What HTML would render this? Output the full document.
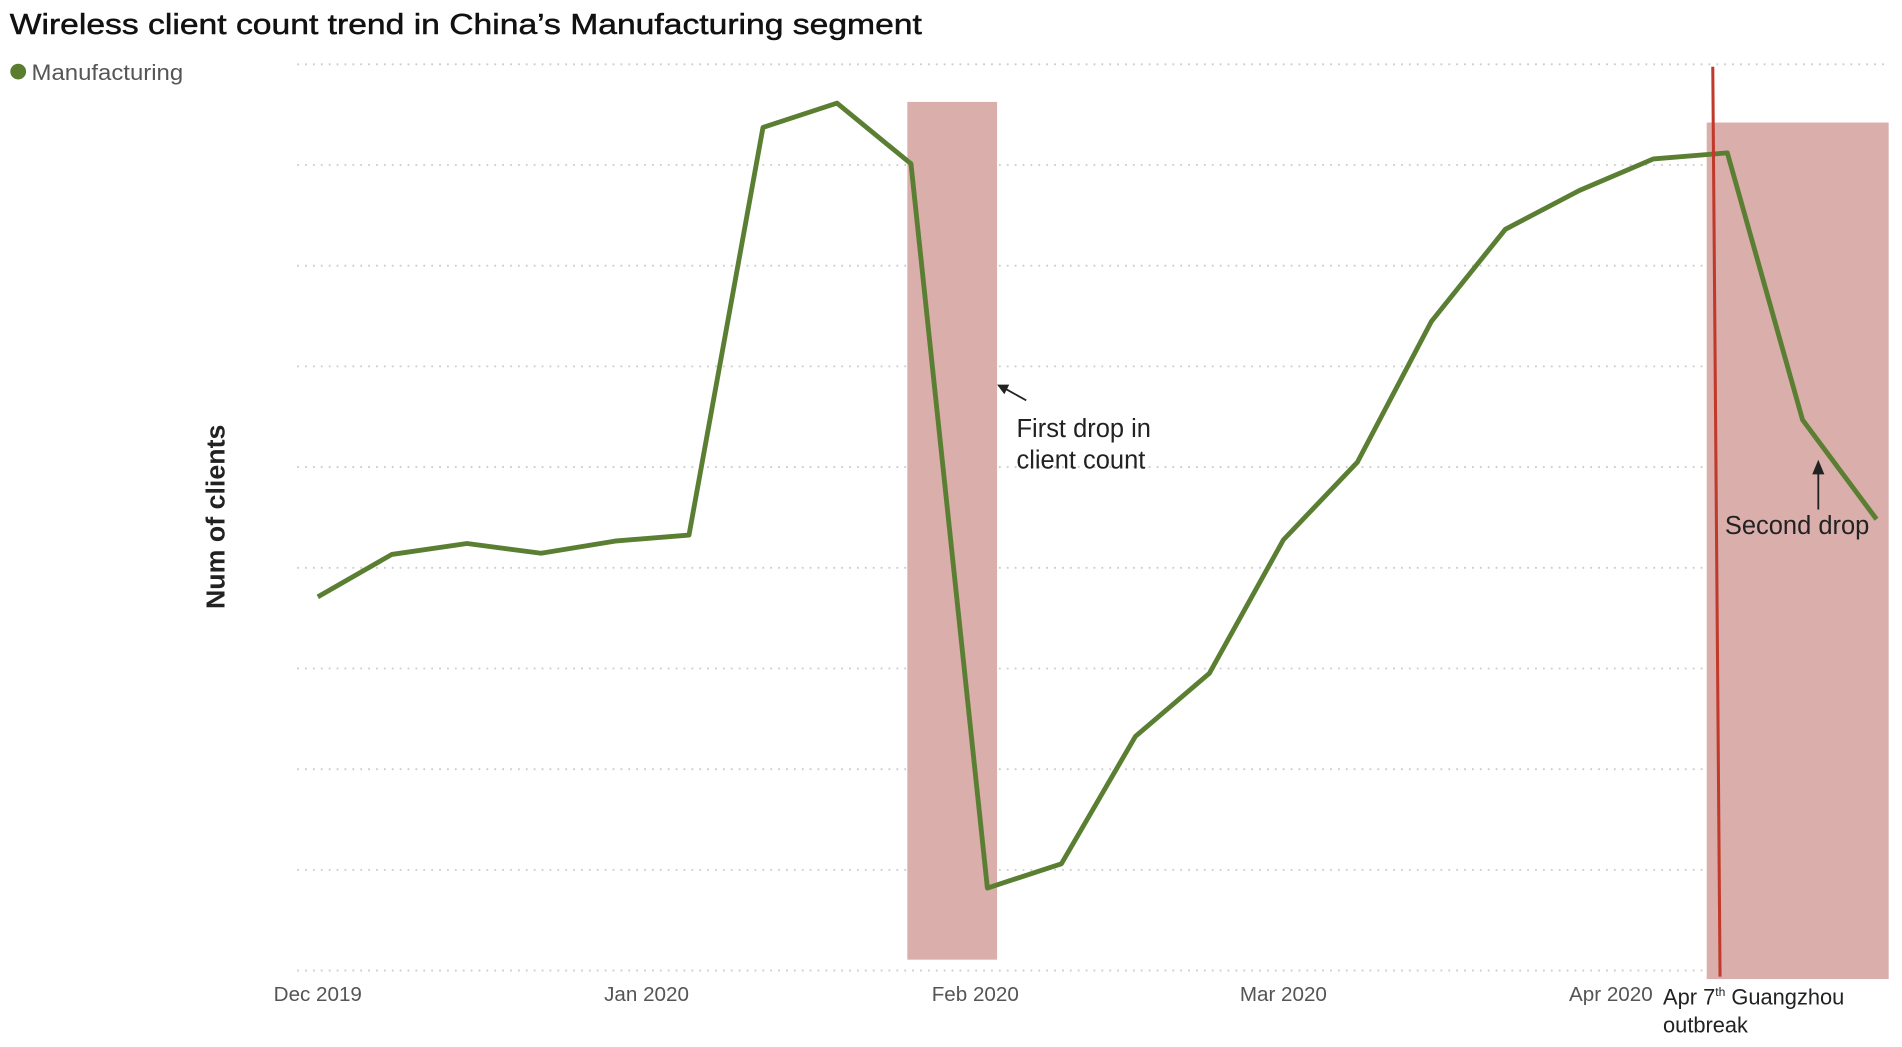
<!DOCTYPE html>
<html><head><meta charset="utf-8"><style>
html,body{margin:0;padding:0;background:#fff;width:1902px;height:1047px;overflow:hidden}
svg{display:block}
text{font-family:"Liberation Sans",sans-serif}
</style></head><body>
<svg width="1902" height="1047" viewBox="0 0 1568 863" preserveAspectRatio="none">
<text x="8" y="28" font-size="24" fill="#111" stroke="#111" stroke-width="0.4" textLength="752" lengthAdjust="spacingAndGlyphs">Wireless client count trend in China’s Manufacturing segment</text>
<circle cx="15" cy="59" r="6.5" fill="#5a7d2f"/>
<text x="26" y="66" font-size="18" fill="#555" textLength="125" lengthAdjust="spacingAndGlyphs">Manufacturing</text>
<g stroke="#ccc" stroke-width="1.5" stroke-dasharray="1.5 5">
<line x1="245" y1="53" x2="1557" y2="53"/><line x1="245" y1="136" x2="1557" y2="136"/>
<line x1="245" y1="219" x2="1557" y2="219"/><line x1="245" y1="302" x2="1557" y2="302"/>
<line x1="245" y1="385" x2="1557" y2="385"/><line x1="245" y1="468" x2="1557" y2="468"/>
<line x1="245" y1="551" x2="1557" y2="551"/><line x1="245" y1="634" x2="1557" y2="634"/>
<line x1="245" y1="717" x2="1557" y2="717"/><line x1="245" y1="800" x2="1557" y2="800"/>
</g>
<rect x="748" y="84" width="74" height="707" fill="#d9aeab"/>
<rect x="1407" y="101" width="150" height="706" fill="#d9aeab"/>
<polyline fill="none" stroke="#5b7f32" stroke-width="4" stroke-linejoin="round" points="262,492 323,457 385,448 446,456 507,446 568,441 629,105 690,85 751,135 814,732 875,712 936,607 997,555 1058,445 1119,381 1180,265 1241,189 1302,157 1363,131 1424,126 1486,346 1547,428"/>
<line x1="1412" y1="55" x2="1418" y2="805" stroke="#c0392b" stroke-width="2.5"/>
<text transform="translate(185,426) rotate(-90)" text-anchor="middle" font-size="21" font-weight="bold" fill="#222" textLength="152" lengthAdjust="spacingAndGlyphs">Num of clients</text>
<g font-size="17" fill="#555" text-anchor="middle">
<text x="262" y="825">Dec 2019</text><text x="533" y="825">Jan 2020</text>
<text x="804" y="825">Feb 2020</text><text x="1058" y="825">Mar 2020</text>
<text x="1328" y="825">Apr 2020</text>
</g>
<text x="1371" y="828" font-size="18" fill="#222">Apr 7<tspan font-size="10" dy="-7">th</tspan><tspan dy="7"> Guangzhou</tspan></text>
<text x="1371" y="851" font-size="18" fill="#222">outbreak</text>
<text x="838" y="360" font-size="21" fill="#222">First drop in</text>
<text x="838" y="386" font-size="21" fill="#222">client count</text>
<line x1="846" y1="330" x2="828" y2="320" stroke="#222" stroke-width="1.5"/>
<polygon points="822,317 832,317 828,325" fill="#222"/>
<text x="1422" y="440" font-size="21" fill="#222">Second drop</text>
<line x1="1499" y1="420" x2="1499" y2="390" stroke="#222" stroke-width="1.5"/>
<polygon points="1499,379 1494,391 1504,391" fill="#222"/>
</svg>
</body></html>
